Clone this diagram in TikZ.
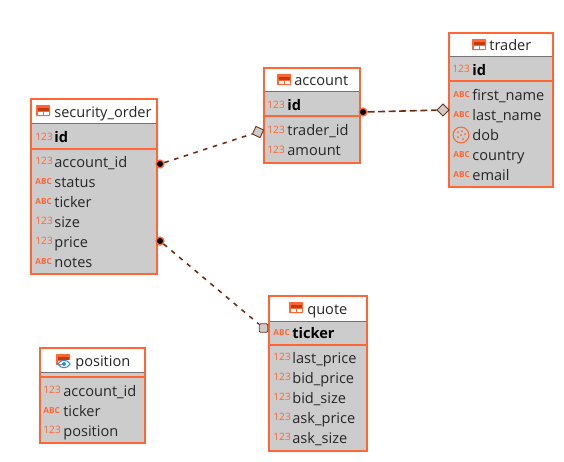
\documentclass[tikz,border=0pt]{standalone}
\usepackage{fontspec}
\setmainfont{Open Sans}
\usetikzlibrary{shapes.geometric}
\definecolor{tblorange}{HTML}{FF6633}
\definecolor{tblgrey}{HTML}{CCCCCC}
\definecolor{tbldark}{HTML}{C43A0A}
\definecolor{linkbrown}{HTML}{6E2E12}
\definecolor{eyeblue}{HTML}{2E8FD8}
\tikzset{
  tblframe/.style={draw=tblorange, line width=1.4pt, inner sep=0pt, outer sep=0pt, anchor=north west},
  tblhead/.style={fill=white, draw=none},
  tblbody/.style={fill=tblgrey, draw=none},
  tblsep/.style={draw=tblorange, line width=0.6pt},
  tblrule/.style={draw=black!55, line width=0.5pt},
  tbltitle/.style={anchor=base west, font=\fontsize{8.3}{10}\selectfont, inner sep=0pt, text=black!85},
  tblfield/.style={anchor=base west, font=\fontsize{8.3}{10}\selectfont, inner sep=0pt, text=black!85},
  tblkey/.style={tblfield, font=\fontsize{8.3}{10}\selectfont\bfseries, text=black},
  numicon/.style={anchor=base west, font=\fontsize{5.8}{7}\selectfont, inner sep=0pt, text=tblorange},
  txticon/.style={anchor=base west, font=\fontsize{4.7}{7}\selectfont\bfseries, inner sep=0pt, text=tblorange},
  fklink/.style={draw=linkbrown, line width=0.9pt, dash pattern=on 2.6pt off 3.2pt},
  fkdot/.style={circle, fill=black, draw=tblorange, line width=0.8pt, inner sep=0pt, minimum size=4.4pt},
  fkdiamond/.style={diamond, aspect=1, fill=tblgrey, draw=linkbrown, line width=0.5pt, inner sep=0pt, minimum size=7pt},
  fksquare/.style={rectangle, rounded corners=0.6pt, fill=tblgrey, draw=linkbrown, line width=0.5pt, inner sep=0pt, minimum size=4.8pt},
}
\newcommand{\iconnum}{123}
\newcommand{\icontxt}{ABC}
% name, left, top, right, head, sep, bottom
\newcommand{\tblbox}[7]{
  \fill[tblbody] (#2,#3) rectangle (#4,#7);
  \fill[tblhead] (#2,#3) rectangle (#4,#5);
  \draw[tblrule] (#2,#5) -- (#4,#5);
  \draw[tblsep] (#2,#6) -- (#4,#6);
  \node[tblframe, minimum width={(#4-#2)*0.02cm}, minimum height={(#7-#3)*0.02cm}] (#1) at (#2,#3) {};
}
\newcommand{\tblicon}[2]{
  \fill[tblorange, rounded corners=0.4pt] (#1,#2) rectangle ++(14,11);
  \fill[tbldark] (#1+1.5,#2+3) rectangle ++(11,2.5);
  \fill[white] (#1+1.5,#2+6.5) rectangle ++(5,3);
  \fill[white] (#1+7.5,#2+6.5) rectangle ++(5,3);
}

\begin{document}
\begin{tikzpicture}[x=0.02cm, y=-0.02cm]
\useasboundingbox (0,0) rectangle (564,461);

% tables
\tblbox{securityorder}{31}{99}{157}{123}{149}{274}
\tblbox{account}{264}{68}{360}{91}{116}{163}
\tblbox{trader}{449}{33}{553}{56}{81}{187}
\tblbox{position}{40}{348}{145}{372}{377}{443}
\tblbox{quote}{269}{296}{367}{321}{345}{451}

% titles
\tblicon{36}{105}
\node[tbltitle] (securityorder-title) at (54,117) {security\_order};
\tblicon{277}{74}
\node[tbltitle] (account-title) at (294,85) {account};
\tblicon{472}{39}
\node[tbltitle] (trader-title) at (489,50) {trader};
\tblicon{56}{354}
\node[tbltitle] (position-title) at (75,366) {position};
\tblicon{289}{302}
\node[tbltitle] (quote-title) at (307,314) {quote};

% view eye
\fill[white] (62,360) rectangle (72,369);
\draw[eyeblue, line width=0.6pt] (58,364) .. controls (61,359) and (67,359) .. (70,364) .. controls (67,369) and (61,369) .. (58,364) -- cycle;
\fill[eyeblue] (64,364) circle (2);

% fields
\node[numicon] (securityorder-kicon) at (35,140) {\iconnum};
\node[tblkey] (securityorder-key) at (54,142) {id};
\foreach \kind/\lbl/\base [count=\i] in {num/account\_id/167, txt/status/187, txt/ticker/207, num/size/227, num/price/247, txt/notes/267}
{
  \node[\kind icon] (securityorder-i\i) at (35,\base-3) {\csname icon\kind\endcsname};
  \node[tblfield] (securityorder-f\i) at (54,\base) {\lbl};
}

\node[numicon] (account-kicon) at (267,108) {\iconnum};
\node[tblkey] (account-key) at (287,110) {id};
\foreach \kind/\lbl/\base [count=\i] in {num/trader\_id/135, num/amount/155}
{
  \node[\kind icon] (account-i\i) at (267,\base-2) {\csname icon\kind\endcsname};
  \node[tblfield] (account-f\i) at (287,\base) {\lbl};
}

\node[numicon] (trader-kicon) at (452,72) {\iconnum};
\node[tblkey] (trader-key) at (472,75) {id};
\foreach \kind/\lbl/\base [count=\i] in {txt/first\_name/100, txt/last\_name/120, txt/country/160, txt/email/180}
{
  \node[\kind icon] (trader-i\i) at (453,\base-3) {\csname icon\kind\endcsname};
  \node[tblfield] (trader-f\i) at (472,\base) {\lbl};
}
\node[tblfield] (trader-dob) at (472,140) {dob};
\node[circle, draw=tblorange, line width=0.6pt, minimum size=9pt, inner sep=0pt] (trader-dobicon) at (461,135) {};
\foreach \dx/\dy in {-3/-3, 1/-4, 4/-1, 0/0, -3/2, 2/4}
  \fill[tblorange] (461+\dx,135+\dy) circle (1);

\foreach \kind/\lbl/\base [count=\i] in {num/account\_id/396, txt/ticker/416, num/position/436}
{
  \node[\kind icon] (position-i\i) at (43,\base-3) {\csname icon\kind\endcsname};
  \node[tblfield] (position-f\i) at (63,\base) {\lbl};
}

\node[txticon] (quote-kicon) at (273,335) {\icontxt};
\node[tblkey] (quote-key) at (292,338) {ticker};
\foreach \lbl/\base [count=\i] in {last\_price/363, bid\_price/383, bid\_size/403, ask\_price/423, ask\_size/443}
{
  \node[numicon] (quote-i\i) at (273,\base-3) {\iconnum};
  \node[tblfield] (quote-f\i) at (292,\base) {\lbl};
}

% end markers
\node[fkdot] (order-acc) at (160,164) {};
\node[fkdot] (order-quote) at (160,241) {};
\node[fkdot] (acc-trader) at (363,112) {};
\node[fkdiamond, rotate=20] (acc-order) at (258,132) {};
\node[fkdiamond] (trader-acc) at (443,110) {};
\node[fksquare] (quote-order) at (263.5,328) {};

% links
\draw[fklink] (order-acc) -- (acc-order);
\draw[fklink] (order-quote) -- (quote-order);
\draw[fklink, dash pattern=on 4pt off 2pt] (acc-trader) -- (trader-acc);
\end{tikzpicture}
\end{document}
